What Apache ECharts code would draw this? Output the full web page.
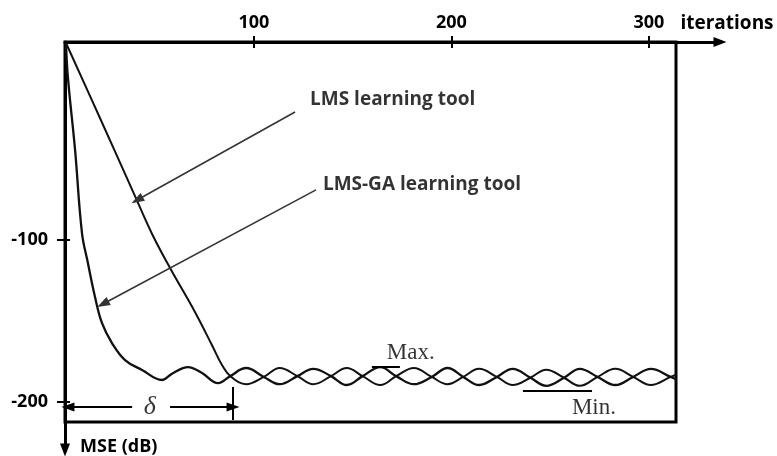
<!DOCTYPE html>
<html>
<head>
<meta charset="utf-8">
<script src="https://cdn.jsdelivr.net/npm/echarts@6/dist/echarts.min.js"></script>
<style>
  html, body { margin: 0; padding: 0; background: #fff; }
  #main { width: 777px; height: 456px; }
</style>
</head>
<body>
<div id="main"></div>
<script>
// curves: [iterations, MSE (dB)]
var gaCurve = [
  [4.8, 21.6], [5.8, 0], [9.4, -44.4], [12.9, -95.7], [15.9, -114.2], [19.5, -135.2],
  [23.0, -151.2], [28.1, -163.6], [34.7, -174.1], [43.3, -180.2], [53.4, -186.4],
  [58.5, -182.5], [66.6, -178.4], [73.7, -182.1], [81.8, -188.3],
  [88, -184], [96, -179], [105, -184.5], [113, -189], [122, -184], [130, -179.5],
  [139, -184], [147, -189.5], [155, -184], [164, -178.5], [172, -184], [181, -189],
  [190, -184.5], [198, -179], [206, -184.5], [214, -189.5], [223, -184.5], [231, -179.5],
  [240, -185], [248, -190], [257, -185], [265, -179.5], [274, -184.5], [283, -189.5],
  [292, -184.5], [301, -179.5], [311, -184.5], [314, -186]
];
var lmsCurve = [
  [4.8, 21.6], [22.0, -24.7], [39.7, -72.8], [48.4, -96.3], [57.5, -117.3],
  [70.1, -144.4], [78.7, -164.8], [83.8, -177.2],
  [88, -184], [96, -189], [105, -184.5], [113, -179], [122, -184], [130, -189],
  [139, -184], [147, -179], [155, -184], [164, -189.5], [172, -184], [181, -179],
  [190, -184.5], [198, -189], [206, -184.5], [214, -179.5], [223, -184.5], [231, -189.5],
  [240, -185], [248, -180], [257, -185], [265, -190], [274, -184.5], [283, -179.5],
  [292, -184.5], [301, -189.5], [311, -184.5], [314, -183]
];
var xTicks = [100, 200, 300];
var yTicks = [-100, -200];

// annotations (data units)
var lmsArrow = [[120.8, -21.0], [40.8, -75.3]];
var gaArrow = [[131.4, -69.1], [23.5, -139.5]];
var deltaLeft = [[38.3, -203.1], [5.8, -203.1]];
var deltaRight = [[57.5, -203.1], [89.4, -203.1]];
var deltaBar = [[89.4, -190.7], [89.4, -211.1]];
var maxLine = [[159.7, -178.4], [173.9, -178.4]];
var minLine = [[236.2, -193.2], [271.2, -193.2]];
var notes = [
  { text: 'LMS learning tool', at: [128.4, -13.6] },
  { text: 'LMS-GA learning tool', at: [134.9, -66.0] },
  { text: 'Max.', at: [167.3, -169.8] },
  { text: 'Min.', at: [261.0, -203.7] },
  { text: 'δ', at: [47.3, -203.1] }
];

var boldFont = { fontFamily: 'Open Sans', fontWeight: 'bold', fontSize: 18, color: '#000' };
var serifFont = { fontFamily: 'Liberation Serif', fontSize: 23, color: '#000' };

function seg(pts, startSym, endSym, width, color) {
  return [
    { coord: pts[0], symbol: startSym, lineStyle: { width: width, color: color, type: 'solid' } },
    { coord: pts[1], symbol: endSym }
  ];
}

var noteData = notes.map(function (n) {
  var lab;
  if (n.text === 'δ') {
    lab = { position: 'inside', fontFamily: 'Liberation Serif', fontStyle: 'italic', fontSize: 26, color: '#000' };
  } else if (n.text === 'Max.' || n.text === 'Min.') {
    lab = Object.assign({ position: 'right', distance: 0 }, serifFont);
  } else {
    lab = Object.assign({ position: 'right', distance: 0 }, boldFont, { fontSize: 19 });
  }
  lab.show = true;
  lab.formatter = n.text;
  return { value: n.at, label: lab };
});

var chart = echarts.init(document.getElementById('main'));
chart.setOption({
  animation: false,
  backgroundColor: '#fff',
  grid: [
    { left: 65, top: 42, right: 57, bottom: 6, show: false },
    { left: 65, top: 42, right: 101, bottom: 34, show: true, borderColor: '#000', borderWidth: 3, backgroundColor: 'transparent' }
  ],
  xAxis: [
    {
      gridIndex: 0, type: 'value', position: 'top', min: 4.3, max: 336,
      axisLine: { show: true, onZero: false, symbol: ['none', 'triangle'], symbolSize: [10, 13], lineStyle: { color: '#000', width: 3 } },
      axisTick: { show: true, customValues: xTicks, length: 6, lineStyle: { color: '#000', width: 2 } },
      axisLabel: Object.assign({ customValues: xTicks, margin: 10 }, boldFont),
      splitLine: { show: false },
      name: 'iterations', nameLocation: 'end', nameGap: 7,
      nameTextStyle: Object.assign({}, boldFont, { fontSize: 19, align: 'center', verticalAlign: 'bottom', padding: [0, 0, 9, 0] })
    },
    {
      gridIndex: 0, type: 'value', position: 'top', min: 4.3, max: 336,
      axisLine: { show: false, onZero: false },
      axisTick: { show: true, inside: true, customValues: xTicks, length: 6, lineStyle: { color: '#000', width: 2 } },
      axisLabel: { show: false },
      splitLine: { show: false }
    },
    { gridIndex: 1, type: 'value', show: false, min: 0, max: 1, splitLine: { show: false } }
  ],
  yAxis: [
    {
      gridIndex: 0, type: 'value', position: 'left', min: -229.6, max: 22.2,
      axisLine: { show: true, onZero: false, symbol: ['triangle', 'none'], symbolSize: [10, 13], lineStyle: { color: '#000', width: 3 } },
      axisTick: { show: true, customValues: yTicks, length: 8, lineStyle: { color: '#000', width: 2 } },
      axisLabel: Object.assign({ customValues: yTicks, margin: 17 }, boldFont),
      splitLine: { show: false },
      name: 'MSE (dB)', nameLocation: 'start', nameGap: -3,
      nameTextStyle: Object.assign({}, boldFont, { align: 'left', verticalAlign: 'middle', padding: [0, 0, 0, 15] })
    },
    {
      gridIndex: 0, type: 'value', position: 'left', min: -229.6, max: 22.2,
      axisLine: { show: false, onZero: false },
      axisTick: { show: true, inside: true, customValues: yTicks, length: 5, lineStyle: { color: '#000', width: 2 } },
      axisLabel: { show: false },
      splitLine: { show: false }
    },
    { gridIndex: 1, type: 'value', show: false, min: 0, max: 1, splitLine: { show: false } }
  ],
  series: [
    {
      name: 'LMS-GA', type: 'line', xAxisIndex: 0, yAxisIndex: 0, data: gaCurve,
      smooth: 0.4, symbol: 'none', lineStyle: { color: '#111', width: 2.3 }
    },
    {
      name: 'LMS', type: 'line', xAxisIndex: 0, yAxisIndex: 0, data: lmsCurve,
      smooth: 0.4, symbol: 'none', lineStyle: { color: '#111', width: 2 }
    },
    {
      name: 'notes', type: 'scatter', xAxisIndex: 0, yAxisIndex: 0, symbolSize: 0,
      data: noteData, silent: true,
      markLine: {
        silent: true, animation: false, symbolSize: [9, 13],
        label: { show: false },
        emphasis: { disabled: true },
        data: [
          seg(lmsArrow, 'none', 'triangle', 1.5, '#333'),
          seg(gaArrow, 'none', 'triangle', 1.5, '#333'),
          seg(deltaLeft, 'none', 'triangle', 2, '#000'),
          seg(deltaRight, 'none', 'triangle', 2, '#000'),
          seg(deltaBar, 'none', 'none', 2, '#000'),
          seg(maxLine, 'none', 'none', 2, '#000'),
          seg(minLine, 'none', 'none', 2, '#000')
        ]
      }
    }
  ]
});
</script>
</body>
</html>
